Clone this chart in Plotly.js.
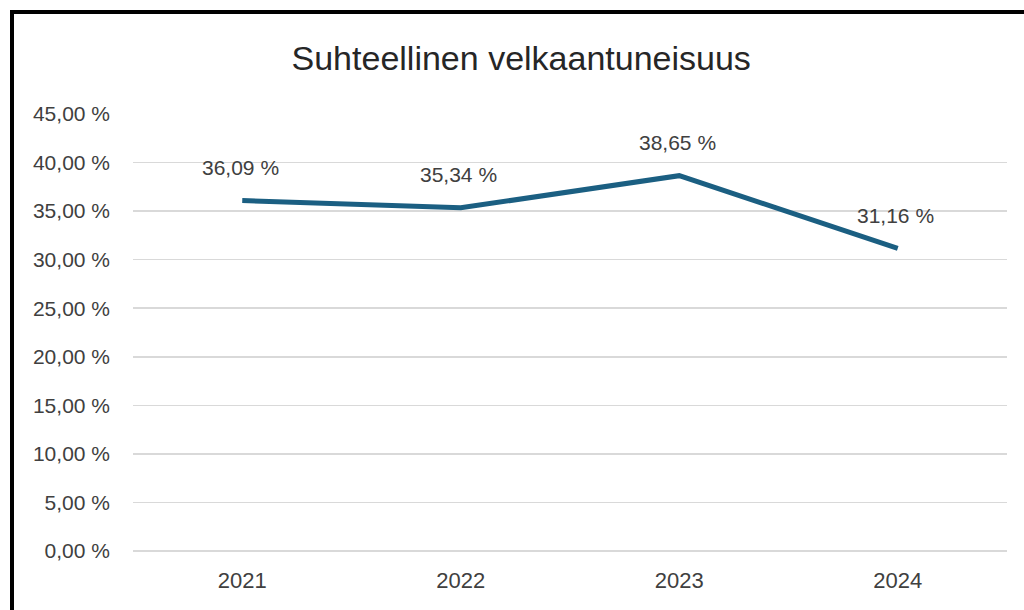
<!DOCTYPE html>
<html>
<head>
<meta charset="utf-8">
<script src="https://cdn.plot.ly/plotly-3.0.1.min.js"></script>
<style>
html,body{margin:0;padding:0;background:#fff;width:1024px;height:610px;overflow:hidden;}
#frame{position:absolute;left:10px;top:10px;width:1014px;height:600px;border-left:4px solid #000;border-top:4px solid #000;box-sizing:border-box;}
#chart{position:absolute;left:0;top:0;width:1024px;height:610px;}
</style>
</head>
<body>
<div id="chart"></div>
<div id="frame"></div>
<script>
const years = ['2021', '2022', '2023', '2024'];
const values = [36.09, 35.34, 38.65, 31.16];
const valueLabels = ['36,09 %', '35,34 %', '38,65 %', '31,16 %'];
const tickValues = [0, 5, 10, 15, 20, 25, 30, 35, 40, 45];
const tickLabels = ['0,00 %', '5,00 %', '10,00 %', '15,00 %', '20,00 %', '25,00 %', '30,00 %', '35,00 %', '40,00 %', '45,00 %'];

const FONT = 'Liberation Sans, Arial, sans-serif';

const trace = {
  x: years,
  y: values,
  type: 'scatter',
  mode: 'lines',
  line: {color: '#1b5f82', width: 5},
  hoverinfo: 'skip'
};

const annotations = years.map((yr, i) => ({
  x: i, y: values[i], xref: 'x', yref: 'y',
  text: valueLabels[i], showarrow: false,
  yshift: 33, xshift: -2,
  font: {family: FONT, size: 21, color: '#404040'}
}));

const layout = {
  width: 1024, height: 610,
  margin: {l: 133, r: 17, t: 114, b: 59},
  paper_bgcolor: '#ffffff',
  plot_bgcolor: '#ffffff',
  showlegend: false,
  title: {
    text: 'Suhteellinen velkaantuneisuus',
    font: {family: FONT, size: 34, color: '#262626'},
    x: 0.509, xanchor: 'center', xref: 'container',
    y: 0.905, yanchor: 'middle', yref: 'container'
  },
  xaxis: {
    type: 'category',
    range: [-0.5, 3.5],
    showgrid: false, zeroline: false, showline: false,
    ticks: '', ticklabelstandoff: 14,
    tickfont: {family: FONT, size: 22, color: '#404040'}
  },
  yaxis: {
    range: [0, 45],
    tickvals: tickValues, ticktext: tickLabels,
    showgrid: true, gridcolor: '#d9d9d9', gridwidth: 1.5,
    zeroline: true, zerolinecolor: '#d9d9d9', zerolinewidth: 1.5,
    showline: false, ticks: '', ticklabelstandoff: 22,
    tickfont: {family: FONT, size: 21, color: '#404040'}
  },
  annotations: annotations
};

Plotly.newPlot('chart', [trace], layout, {displayModeBar: false, staticPlot: true});
</script>
</body>
</html>
